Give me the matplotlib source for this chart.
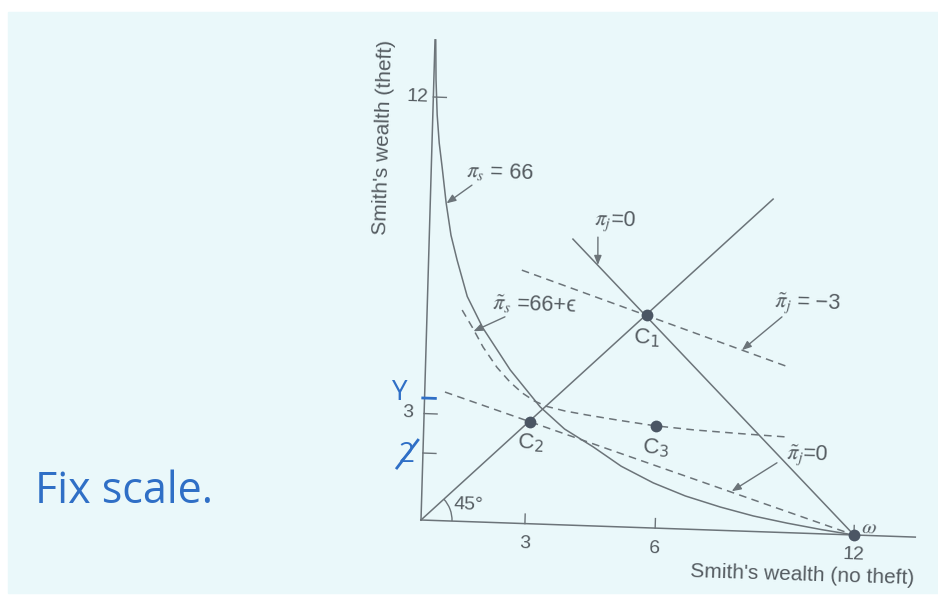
"""
Smith's wealth with and without theft: indifference curves, iso-profit
lines and the candidate contracts C1, C2, C3 (scanned-page look).
"""

import numpy as np
import matplotlib.pyplot as plt
from matplotlib.patches import Arc, Rectangle
from matplotlib.transforms import Affine2D

# Smith's indifference curve, pi_s = 66 (solid)
CURVE_X = [0.02, 0.06, 0.12, 0.20, 0.30, 0.44, 0.60, 0.79, 1.10, 1.56, 2.35,
           3.21, 3.90, 4.71, 5.50, 6.40, 7.30, 8.28, 9.20, 10.14, 11.10, 12.0]
CURVE_Y = [13.62, 12.5, 11.5, 10.7, 10.02, 9.01, 8.10, 7.40, 6.38, 5.50, 4.34,
           3.32, 2.72, 2.24, 1.72, 1.28, 0.94, 0.66, 0.44, 0.27, 0.12, 0.0]

# pi~_s = 66 + eps (dashed)
EPS_X = [0.97, 1.26, 1.58, 1.98, 2.35, 2.70, 3.05, 3.40, 3.90, 4.50, 5.40,
         6.40, 7.50, 8.80, 10.10]
EPS_Y = [5.99, 5.52, 4.96, 4.40, 4.00, 3.70, 3.48, 3.34, 3.23, 3.14, 3.02,
         2.90, 2.82, 2.76, 2.71]

# straight lines: (x0, x1), (y0, y1)
CERTAINTY_X, CERTAINTY_Y = [0.0, 9.49], [0.0, 9.44]      # 45 degree line
PIJ_X, PIJ_Y = [3.98, 12.0], [8.11, 0.0]                  # pi_j = 0
ZERO_X, ZERO_Y = [0.56, 12.0], [3.65, 0.0]                # pi~_j = 0
MINUS3_X, MINUS3_Y = [2.59, 10.04], [7.18, 4.70]          # pi~_j = -3

POINT_X = [6.09, 2.94, 6.42, 12.0]                        # C1, C2, C3, omega
POINT_Y = [6.03, 2.88, 2.89, 0.0]

X_AXIS_END = 13.7
Y_AXIS_END = 13.62
XTICK_POS = [2.88, 6.49, 12.0]
XTICK_LABELS = ['3', '6', '12']
YTICK_POS = [1.90, 3.02, 12.0]
YTICK_LABELS = ['', '3', '12']

W, H = 938, 596
ORIGIN = (421, 76)            # pixel position of (0, 0)
XSCALE, YSCALE = 36.08, 35.25
ROT = -1.8

BG = '#eaf8fa'
INK = '#555c61'
LINE = '#6c7479'
DOT = '#4b5664'
PEN = '#2f6fc6'

fig = plt.figure(figsize=(W / 100, H / 100), dpi=100, facecolor='white')
ax = fig.add_axes([0, 0, 1, 1])
ax.set_xlim(-ORIGIN[0] / XSCALE, (W - ORIGIN[0]) / XSCALE)
ax.set_ylim(-ORIGIN[1] / YSCALE, (H - ORIGIN[1]) / YSCALE)
ax.axis('off')

fig.add_artist(Rectangle((8 / W, 3 / H), 1 - 8 / W, 1 - 15 / H,
                         transform=fig.transFigure, color=BG, zorder=-1))

# the page sits slightly skewed on the scanner
ox, oy = ORIGIN
skew = Affine2D(np.array([[1.0, 0.0292, -0.0292 * oy],
                          [-0.0346, 1.0, 0.0346 * ox],
                          [0.0, 0.0, 1.0]]))
tr = ax.transData + skew

txt = dict(transform=tr, rotation=ROT, rotation_mode='anchor', color=INK,
           family=['Liberation Sans', 'DejaVu Sans'], math_fontfamily='stix')
sub = dict(txt, math_fontfamily='dejavusans')

# axes
ax.plot([0, 0], [0, Y_AXIS_END], color=LINE, lw=1.1, transform=tr)
ax.plot([0, X_AXIS_END], [0, 0], color=LINE, lw=1.1, transform=tr)
for p, lab in zip(XTICK_POS, XTICK_LABELS):
    ax.plot([p, p], [0, 0.27], color=LINE, lw=1.0, transform=tr)
    ax.text(p, -0.57, lab, fontsize=14, ha='center', va='center', **txt)
for p, lab in zip(YTICK_POS, YTICK_LABELS):
    ax.plot([0, 0.36], [p, p], color=LINE, lw=1.0, transform=tr)
    ax.text(-0.45, p, lab, fontsize=14, ha='center', va='center', **txt)

ax.text(10.6, -1.18, "Smith's wealth (no theft)", fontsize=15,
        ha='center', va='center', **txt)
lbl = dict(txt, rotation=90 + ROT)
ax.text(-1.36, 10.82, "Smith's wealth (theft)", fontsize=15,
        ha='center', va='center', **lbl)

# curves and lines
ax.plot(CERTAINTY_X, CERTAINTY_Y, color=LINE, lw=1.1, transform=tr)
ax.plot(PIJ_X, PIJ_Y, color=LINE, lw=1.1, transform=tr)
ax.plot(CURVE_X, CURVE_Y, color=LINE, lw=1.1, transform=tr)
dash = dict(color=LINE, lw=1.1, dashes=(5, 3.5), transform=tr)
ax.plot(EPS_X, EPS_Y, **dash)
ax.plot(ZERO_X, ZERO_Y, **dash)
ax.plot(MINUS3_X, MINUS3_Y, **dash)

ax.add_patch(Arc((0, 0), 2 * 31 / XSCALE, 2 * 31 / YSCALE, theta1=0, theta2=45,
                 color=LINE, lw=1.0, transform=tr))
ax.text(1.29, 0.47, '45°', fontsize=14, ha='center', va='center', **txt)

ax.plot(POINT_X, POINT_Y, 'o', ms=8.5, color=DOT, mec='none', transform=tr,
        zorder=5)
ax.text(6.11, 5.38, r'C$_1$', fontsize=16, ha='center', va='center', **sub)
ax.text(2.98, 2.29, r'C$_2$', fontsize=16, ha='center', va='center', **sub)
ax.text(6.45, 2.27, r'C$_3$', fontsize=16, ha='center', va='center', **sub)
ax.text(12.41, 0.21, r'$\omega$', fontsize=15, ha='center', va='center', **txt)

# curve labels with pointer arrows
arrow = dict(arrowstyle='-|>,head_length=0.55,head_width=0.22', color=LINE,
             lw=1.0, shrinkA=0, shrinkB=0)
labels = [
    (r'$\pi_s$ = 66', (1.91, 9.94), (1.14, 9.54), (0.45, 9.0)),
    (r'$\pi_j$=0', (5.13, 8.64), (4.67, 8.19), (4.69, 7.40)),
    (r'$\tilde{\pi}_s$ =66+ϵ', (2.95, 6.20), (2.16, 5.84), (1.30, 5.40)),
    (r'$\tilde{\pi}_j$ = −3', (10.54, 6.50), (9.83, 6.11), (8.75, 5.13)),
    (r'$\tilde{\pi}_j$=0', (10.66, 2.22), (9.81, 1.97), (8.58, 1.12)),
]
for s, pos, tail, head in labels:
    ax.text(pos[0], pos[1], s, fontsize=15.5, ha='center', va='center', **txt)
    ax.annotate('', xy=head, xytext=tail, xycoords=tr, textcoords=tr,
                arrowprops=arrow)

# pen notes on the page
pen = dict(color=PEN, family='Open Sans')
fig.text(35 / W, 1 - 503 / H, 'Fix scale.', fontsize=31, ha='left',
         va='baseline', **pen)
ax.text(-0.68, 3.58, 'Y', fontsize=20, ha='center', va='center',
        transform=tr, **pen)
ax.plot([-0.05, 0.3], [3.46, 3.46], color=PEN, lw=2.0, transform=tr)
ax.text(-0.44, 1.83, '2', fontsize=20, ha='center', va='center',
        transform=tr, **pen)
ax.plot([-0.71, -0.15], [1.45, 2.26], color=PEN, lw=2.0, transform=tr)

fig.savefig('out.png', dpi=100, facecolor=fig.get_facecolor())
